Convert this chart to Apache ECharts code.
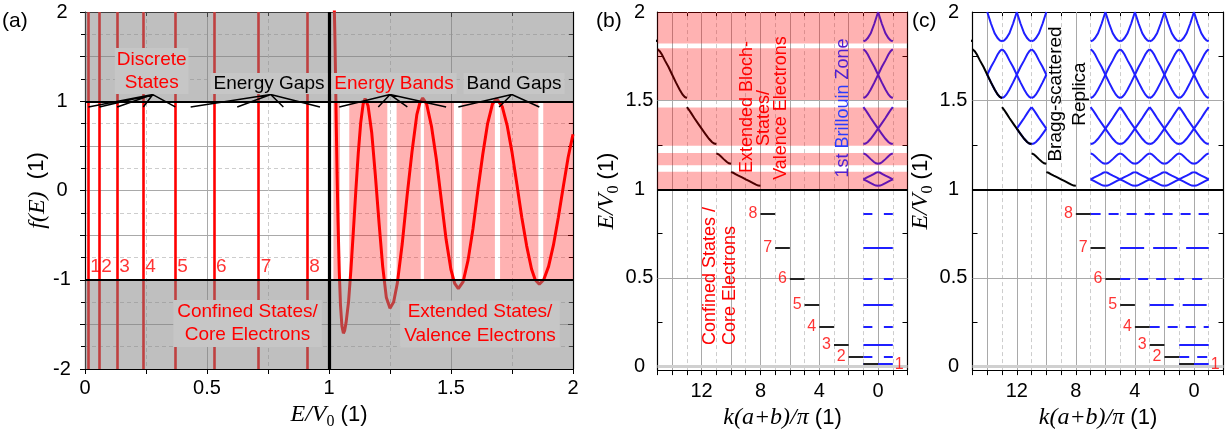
<!DOCTYPE html>
<html>
<head>
<meta charset="utf-8">
<script src="https://cdn.jsdelivr.net/npm/echarts@6/dist/echarts.min.js"></script>
<style>
  html, body { margin: 0; padding: 0; background: #fff; }
  #chart { width: 1231px; height: 435px; }
</style>
</head>
<body>
<div id="chart"></div>
<script>
// ---- panel (a): f(E) ----
// positions of the discrete levels below V0 (vertical crossings)
var levelsA = [0.0137, 0.0586, 0.132, 0.239, 0.370, 0.529, 0.712, 0.911];
// f(E) above V0
var curveA = [
  [1.016, 2.6], [1.020, 2.25], [1.024, 1.75], [1.027, 1.25], [1.030, 0.7], [1.033, 0.2],
  [1.037, -0.35], [1.042, -0.9], [1.047, -1.28], [1.053, -1.52], [1.059, -1.60], [1.064, -1.57],
  [1.070, -1.48], [1.080, -1.25], [1.090, -0.88], [1.100, -0.45], [1.110, 0.0], [1.120, 0.42],
  [1.130, 0.76], [1.140, 0.97], [1.148, 1.03], [1.160, 0.95], [1.175, 0.65], [1.190, 0.17],
  [1.205, -0.36], [1.220, -0.85], [1.235, -1.20], [1.250, -1.32], [1.265, -1.25], [1.280, -1.04],
  [1.300, -0.60], [1.320, -0.06], [1.340, 0.43], [1.360, 0.85], [1.372, 0.98], [1.384, 1.035],
  [1.400, 0.97], [1.420, 0.72], [1.440, 0.35], [1.460, -0.10], [1.480, -0.55], [1.500, -0.89],
  [1.515, -1.04], [1.530, -1.10], [1.550, -1.02], [1.570, -0.78], [1.590, -0.43], [1.610, 0.0],
  [1.630, 0.40], [1.650, 0.75], [1.670, 0.97], [1.687, 1.03], [1.710, 0.94], [1.730, 0.73],
  [1.750, 0.43], [1.770, 0.07], [1.790, -0.30], [1.810, -0.62], [1.830, -0.88], [1.845, -1.0],
  [1.862, -1.05], [1.880, -1.0], [1.900, -0.85], [1.920, -0.61], [1.940, -0.30], [1.960, 0.04],
  [1.980, 0.37], [2.000, 0.63]
];
// allowed energy bands (pink), E/V0 ranges
var bandsA = [[1.018, 1.045], [1.083, 1.239], [1.277, 1.376], [1.389, 1.512], [1.544, 1.680], [1.701, 1.858], [1.878, 2.0]];
// annotation pointers: apex and end points
var ptrDiscrete = { apex: [0.278, 1.075], ends: [0.014, 0.059, 0.132, 0.239, 0.370] };
var ptrGaps = { apex: [0.761, 1.075], ends: [0.433, 0.624, 0.813, 0.963] };
var ptrBands = { apex: [1.25, 1.075], ends: [1.042, 1.202, 1.321, 1.48] };
var ptrBandGaps = { apex: [1.749, 1.075], ends: [1.53, 1.697, 1.862] };
var ptrEndY = 0.936;

// ---- panels (b), (c): dispersion ----
// extended-zone bands [k(a+b)/pi, E/V0]
var band1 = [[8, 1.02], [8.15, 1.021], [8.3, 1.026], [8.5, 1.035], [8.75, 1.046], [9, 1.056], [9.25, 1.067], [9.5, 1.077], [9.7, 1.086], [9.85, 1.093], [10, 1.097]];
var band2 = [[10, 1.144], [10.15, 1.147], [10.3, 1.155], [10.5, 1.17], [10.7, 1.186], [10.85, 1.197], [11, 1.203]];
var band3 = [[11, 1.255], [11.15, 1.258], [11.3, 1.267], [11.5, 1.285], [11.75, 1.313], [12, 1.342], [12.25, 1.372], [12.5, 1.402], [12.7, 1.428], [12.85, 1.447], [13, 1.463]];
var band4 = [[13, 1.515], [13.15, 1.521], [13.3, 1.535], [13.5, 1.563], [13.75, 1.603], [14, 1.646], [14.25, 1.69], [14.5, 1.727], [14.7, 1.76], [14.85, 1.779], [15, 1.79]];
var band5 = [[15, 1.835], [15.15, 1.84], [15.3, 1.853], [15.5, 1.88], [15.75, 1.935], [16, 2.0]];
// confined levels 1..8
var levelsB = [0.013, 0.055, 0.125, 0.223, 0.348, 0.498, 0.669, 0.863];
// where the blue replica of each level starts in (c)
var blueStartC = [1, 1, 1, 3, 3, 5, 5, 7];
// allowed bands in (b) (pink)
var pinkB = [[1.0, 1.099], [1.136, 1.205], [1.246, 1.462], [1.503, 1.795], [1.823, 2.0]];
var labelsK = [0, 4, 8, 12];
var labelsE = [0, 0.5, 1, 1.5, 2];
var ticksE = [0, 0.25, 0.5, 0.75, 1, 1.25, 1.5, 1.75, 2];

var SANS = 'Liberation Sans, Arial, sans-serif';
var SERIF = 'Liberation Serif, Times New Roman, serif';
var RED = '#ff0000';
var BLUE = '#1f1fff';
var GRID_SOLID = '#a9a9a9';
var GRID_DASH = '#cdcdcd';

var chart = echarts.init(document.getElementById('chart'));

function nameRich() {
  return {
    m: { fontFamily: SERIF, fontStyle: 'italic', fontSize: 24, color: '#000', lineHeight: 30 },
    s: { fontFamily: SERIF, fontSize: 16, color: '#000', padding: [14, 0, 0, 0] },
    n: { fontFamily: SANS, fontSize: 22, color: '#000', lineHeight: 30 }
  };
}

function rectItem(fill) {
  return function (params, api) {
    var p0 = api.coord([api.value(0), api.value(2)]);
    var p1 = api.coord([api.value(1), api.value(3)]);
    return {
      type: 'rect',
      shape: {
        x: Math.min(p0[0], p1[0]), y: Math.min(p0[1], p1[1]),
        width: Math.abs(p1[0] - p0[0]), height: Math.abs(p1[1] - p0[1])
      },
      style: { fill: fill }
    };
  };
}

// split a band at integer k, then copy each piece by reciprocal-lattice shifts (and mirror)
function pieces(band) {
  var out = [];
  for (var j = Math.ceil(band[0][0]); j < band[band.length - 1][0]; j++) {
    out.push({ j: j, pts: band.filter(function (p) { return p[0] >= j && p[0] <= j + 1; }) });
  }
  return out;
}
function replicas(band, lo, hi) {
  var res = [];
  pieces(band).forEach(function (pc) {
    for (var s = -40; s <= 40; s += 2) {
      var a = pc.j + s;
      if (a >= lo && a + 1 <= hi) res.push({ coords: pc.pts.map(function (p) { return [p[0] + s, p[1]]; }) });
      var b = s - pc.j - 1;
      if (b >= lo && b + 1 <= hi) res.push({ coords: pc.pts.map(function (p) { return [s - p[0], p[1]]; }) });
    }
  });
  return res;
}

function pointerData(p) {
  var d = [];
  p.ends.forEach(function (x) { d.push(p.apex); d.push([x, ptrEndY]); });
  d.push(p.apex);
  return d;
}

// ---- axes ----
var xAxes = [], yAxes = [];
var axisLineStyle = { onZero: false, lineStyle: { color: '#000', width: 1.2 } };

xAxes.push({
  gridIndex: 0, type: 'value', min: 0, max: 2, interval: 0.5,
  axisLine: axisLineStyle,
  axisTick: { inside: false, length: 5, lineStyle: { color: '#000' } },
  minorTick: { show: true, splitNumber: 2, length: 5, lineStyle: { color: '#000' } },
  axisLabel: { fontSize: 20, fontFamily: SANS, color: '#000', margin: 9 },
  splitLine: { show: true, lineStyle: { color: GRID_SOLID } },
  minorSplitLine: { show: true, lineStyle: { color: GRID_DASH, type: [4, 3] } },
  name: '{m|E/V}{s|0}{n| (1)}', nameLocation: 'middle', nameGap: 31,
  nameTextStyle: { rich: nameRich() }
});
xAxes.push({
  gridIndex: 0, type: 'value', position: 'top', min: 0, max: 2, interval: 0.5,
  axisLine: axisLineStyle,
  axisTick: { inside: true, length: 5, lineStyle: { color: '#000' } },
  minorTick: { show: true, splitNumber: 2, length: 4, lineStyle: { color: '#000' } },
  axisLabel: { show: false }, splitLine: { show: false }
});
yAxes.push({
  gridIndex: 0, type: 'value', min: -2, max: 2, interval: 0.5,
  axisLine: axisLineStyle,
  axisTick: { inside: false, length: 5, lineStyle: { color: '#000' } },
  minorTick: { show: true, splitNumber: 2, length: 4, lineStyle: { color: '#000' } },
  axisLabel: {
    fontSize: 20, fontFamily: SANS, color: '#000', margin: 23, align: 'center',
    formatter: function (v) { return Number.isInteger(v) ? String(v) : ''; }
  },
  splitLine: { show: true, lineStyle: { color: GRID_SOLID } },
  minorSplitLine: { show: true, lineStyle: { color: GRID_DASH, type: [4, 3] } },
  name: '{m|f(E)}{n|  (1)}', nameLocation: 'middle', nameGap: 30,
  nameTextStyle: { rich: nameRich() }
});
yAxes.push({
  gridIndex: 0, type: 'value', position: 'right', min: -2, max: 2, interval: 0.5,
  axisLine: axisLineStyle,
  axisTick: { inside: true, length: 5, lineStyle: { color: '#000' } },
  minorTick: { show: true, splitNumber: 2, length: 4, lineStyle: { color: '#000' } },
  axisLabel: { show: false }, splitLine: { show: false }
});

[1, 2].forEach(function (g) {
  xAxes.push({
    gridIndex: g, type: 'value', min: -2, max: 15, interval: 1, inverse: true,
    axisLine: axisLineStyle,
    axisTick: { inside: false, length: 5, lineStyle: { color: '#000' } },
    axisLabel: {
      fontSize: 20, fontFamily: SANS, color: '#000', margin: 11,
      formatter: function (v) { return labelsK.indexOf(v) >= 0 ? String(v) : ''; }
    },
    splitLine: { show: false },
    name: '{m|k(a+b)/π}{n| (1)}', nameLocation: 'middle', nameGap: 30,
    nameTextStyle: { rich: nameRich() }
  });
  xAxes.push({
    gridIndex: g, type: 'value', position: 'top', min: -2, max: 15, interval: 1, inverse: true,
    axisLine: axisLineStyle,
    axisTick: { inside: true, length: 5, lineStyle: { color: '#000' } },
    axisLabel: { show: false }, splitLine: { show: false }
  });
  yAxes.push({
    gridIndex: g, type: 'value', min: -0.02, max: 2,
    axisLine: axisLineStyle,
    axisTick: { inside: true, length: 5, customValues: ticksE, lineStyle: { color: '#000' } },
    axisLabel: { fontSize: 20, fontFamily: SANS, color: '#000', margin: g === 1 ? 18 : 19, align: 'center', customValues: labelsE },
    splitLine: { show: false },
    name: '{m|E/V}{s|0}{n| (1)}', nameLocation: 'middle', nameGap: g === 1 ? 23 : 27,
    nameTextStyle: { rich: nameRich() }
  });
  yAxes.push({
    gridIndex: g, type: 'value', position: 'right', min: -0.02, max: 2,
    axisLine: axisLineStyle,
    axisTick: { inside: true, length: 5, customValues: ticksE, lineStyle: { color: '#000' } },
    axisLabel: { show: false }, splitLine: { show: false }
  });
});

// ---- series ----
var series = [];

// panel (a)
series.push({
  type: 'lines', coordinateSystem: 'cartesian2d', xAxisIndex: 0, yAxisIndex: 0, z: 2, silent: true,
  data: levelsA.map(function (e) { return { coords: [[e, -2], [e, 2]] }; }),
  lineStyle: { color: RED, width: 2.6, opacity: 1 }
});
series.push({
  type: 'line', xAxisIndex: 0, yAxisIndex: 0, z: 2, data: curveA, symbol: 'none', clip: true,
  lineStyle: { color: RED, width: 3 }
});
series.push({
  type: 'custom', xAxisIndex: 0, yAxisIndex: 0, z: 3, silent: true,
  renderItem: rectItem('rgba(255,0,0,0.3)'),
  data: bandsA.map(function (b) { return [b[0], b[1], -1, 1]; })
});
series.push({
  type: 'custom', xAxisIndex: 0, yAxisIndex: 0, z: 3, silent: true,
  renderItem: rectItem('rgba(128,128,128,0.5)'),
  data: [[0, 2, 1, 2], [0, 2, -2, -1]]
});
series.push({
  type: 'lines', coordinateSystem: 'cartesian2d', xAxisIndex: 0, yAxisIndex: 0, z: 4, silent: true,
  data: [
    { coords: [[0, 1], [2, 1]] },
    { coords: [[0, -1], [2, -1]] },
    { coords: [[1, -2], [1, 2]], lineStyle: { width: 3.2 } }
  ],
  lineStyle: { color: '#000', width: 2, opacity: 1 }
});
[ptrDiscrete, ptrGaps, ptrBands, ptrBandGaps].forEach(function (p) {
  series.push({
    type: 'line', xAxisIndex: 0, yAxisIndex: 0, z: 5, symbol: 'none', silent: true,
    data: pointerData(p), lineStyle: { color: '#000', width: 1.5 }
  });
});
series.push({
  type: 'scatter', xAxisIndex: 0, yAxisIndex: 0, z: 6, symbolSize: 0, silent: true,
  data: levelsA.map(function (e, i) { return { value: [e, -0.86], name: String(i + 1) }; }),
  label: { show: true, position: 'right', distance: 2, formatter: '{b}', color: RED, fontSize: 19, fontFamily: SANS }
});

// panels (b) and (c)
function dispersionPanel(ax, withPink, regions) {
  var gridLines = [];
  for (var k = -1; k <= 14; k++) {
    gridLines.push({
      coords: [[k, -0.02], [k, 2]],
      lineStyle: k % 2 === 0 ? { color: GRID_SOLID, type: 'solid' } : { color: GRID_DASH, type: [4, 3] }
    });
  }
  gridLines.push({ coords: [[-2, 0.5], [15, 0.5]], lineStyle: { color: GRID_SOLID } });
  gridLines.push({ coords: [[-2, 1.5], [15, 1.5]], lineStyle: { color: GRID_SOLID } });
  gridLines.push({ coords: [[-2, 0], [15, 0]], lineStyle: { color: '#d0d0d0', width: 3 } });
  series.push({
    type: 'lines', coordinateSystem: 'cartesian2d', xAxisIndex: ax, yAxisIndex: ax, z: 1, silent: true,
    data: gridLines, lineStyle: { width: 1, opacity: 1 }
  });

  // blue replicas of the bands
  var rep = [];
  var bands = [band1, band2, band3, band4, band5];
  bands.forEach(function (b, i) {
    regions[i].forEach(function (r) { rep = rep.concat(replicas(b, r[0], r[1])); });
  });
  series.push({
    type: 'lines', coordinateSystem: 'cartesian2d', polyline: true, xAxisIndex: ax, yAxisIndex: ax, z: 2, silent: true,
    data: rep, lineStyle: { color: BLUE, width: 2, opacity: 1 }
  });

  // blue level replicas
  var lev = levelsB.map(function (e, i) {
    var n = i + 1;
    var start = ax === 2 ? 1 : blueStartC[i];
    var type = 'solid';
    if (ax === 2) {
      if (n % 2 === 0) type = [9, 11.5];
    } else {
      if (n % 2 === 0) type = [10, 8];
      else if (start > 1) type = [24, 9];
    }
    return { coords: [[start, e], [-1, e]], lineStyle: { type: type } };
  });
  series.push({
    type: 'lines', coordinateSystem: 'cartesian2d', xAxisIndex: ax, yAxisIndex: ax, z: 2, silent: true,
    data: lev, lineStyle: { color: BLUE, width: 2, opacity: 1 }
  });

  // black extended-zone curve and confined levels
  series.push({
    type: 'lines', coordinateSystem: 'cartesian2d', polyline: true, xAxisIndex: ax, yAxisIndex: ax, z: 3, silent: true,
    data: bands.map(function (b) { return { coords: b }; }),
    lineStyle: { color: '#000', width: 2, opacity: 1 }
  });
  series.push({
    type: 'lines', coordinateSystem: 'cartesian2d', xAxisIndex: ax, yAxisIndex: ax, z: 3, silent: true,
    data: levelsB.map(function (e, i) { return { coords: [[i + 1, e], [i, e]] }; }),
    lineStyle: { color: '#222', width: 2, opacity: 1 }
  });

  if (withPink) {
    series.push({
      type: 'custom', xAxisIndex: ax, yAxisIndex: ax, z: 4, silent: true,
      renderItem: rectItem('rgba(255,0,0,0.3)'),
      data: pinkB.map(function (p) { return [-2, 15, p[0], p[1]]; })
    });
  }
  series.push({
    type: 'lines', coordinateSystem: 'cartesian2d', xAxisIndex: ax, yAxisIndex: ax, z: 5, silent: true,
    data: [{ coords: [[-2, 1], [15, 1]] }], lineStyle: { color: '#000', width: 2, opacity: 1 }
  });
  series.push({
    type: 'scatter', xAxisIndex: ax, yAxisIndex: ax, z: 6, symbolSize: 0, silent: true,
    data: levelsB.map(function (e, i) {
      if (i === 0) return { value: [-1, e], name: '1', label: { position: 'right', distance: 2 } };
      return { value: [i + 1, e], name: String(i + 1) };
    }),
    label: { show: true, position: 'left', distance: 3, formatter: '{b}', color: RED, fontSize: 16, fontFamily: SANS }
  });
}

dispersionPanel(2, true, [[[-1, 1]], [[-1, 1]], [[-1, 1]], [[-1, 1]], [[-1, 1]]]);
dispersionPanel(4, false, [[[-1, 7]], [[-1, 7]], [[-1, 7], [10, 12]], [[-1, 7], [10, 14]], [[-1, 7], [10, 14]]]);

// ---- texts ----
function txt(x, y, text, color, size, extra) {
  var style = {
    text: text, fill: color, fontSize: size, fontFamily: SANS,
    align: 'center', verticalAlign: 'middle', textAlign: 'center', textVerticalAlign: 'middle'
  };
  for (var key in (extra || {})) style[key] = extra[key];
  return { type: 'text', x: x, y: y, z: 100, silent: true, style: style };
}
function rot(el) { el.rotation = Math.PI / 2; return el; }
var boxBg = { backgroundColor: '#c6c6c6', padding: [1, 3] };

var graphics = [
  txt(2, 21, '(a)', '#000', 21, { align: 'left', textAlign: 'left' }),
  txt(596, 21, '(b)', '#000', 21, { align: 'left', textAlign: 'left' }),
  txt(912, 21, '(c)', '#000', 21, { align: 'left', textAlign: 'left' }),
  txt(151.7, 71, 'Discrete\nStates', RED, 19, { backgroundColor: '#c6c6c6', padding: [0, 2], lineHeight: 23 }),
  txt(269, 83.5, 'Energy Gaps', '#000', 19, boxBg),
  txt(394, 83.5, 'Energy Bands', RED, 19, boxBg),
  txt(514, 83.5, 'Band Gaps', '#000', 19, boxBg),
  txt(247.5, 323.5, 'Confined States/\nCore Electrons', RED, 19, { backgroundColor: '#c6c6c6', padding: [0, 4], lineHeight: 23.5 }),
  txt(480, 324, 'Extended States/\nValence Electrons', RED, 19, { backgroundColor: '#c6c6c6', padding: [0, 4], lineHeight: 23.5 }),
  rot(txt(747, 107, 'Extended Bloch-', RED, 18)),
  rot(txt(764, 118, 'States/', RED, 18)),
  rot(txt(781, 108, 'Valence Electrons', RED, 18)),
  rot(txt(843.3, 108, '{p|1st }{b|Brillouin}{p| Zone}', '#5020d0', 18, {
    rich: {
      p: { fill: '#5020d0', fontSize: 18, fontFamily: SANS },
      b: { fill: '#2a3cff', fontSize: 18, fontFamily: SANS }
    }
  })),
  rot(txt(720, 345, 'Confined States /\nCore Electrons', RED, 18, { align: 'left', textAlign: 'left', lineHeight: 20 })),
  rot(txt(1067.5, 94, 'Bragg-scattered\nReplica', '#000', 19, { lineHeight: 24 }))
];

chart.setOption({
  animation: false,
  backgroundColor: '#fff',
  grid: [
    { left: 85, top: 12, width: 488, height: 363 },
    { left: 657.5, top: 12, width: 250, height: 363 },
    { left: 972.5, top: 12, width: 251, height: 363 }
  ],
  xAxis: xAxes,
  yAxis: yAxes,
  series: series,
  graphic: graphics
});
</script>
</body>
</html>
